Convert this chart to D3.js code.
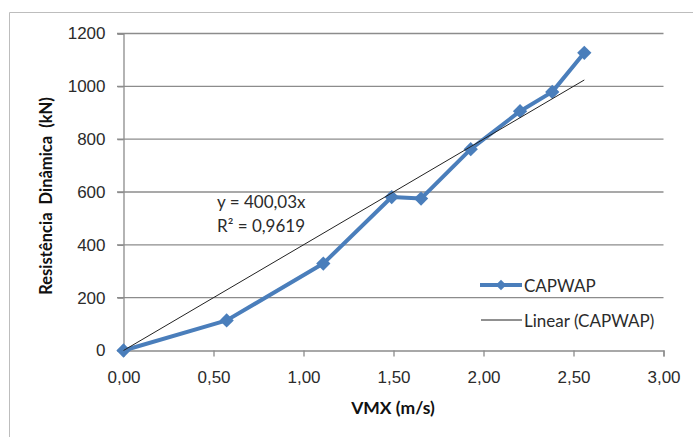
<!DOCTYPE html>
<html>
<head>
<meta charset="utf-8">
<script src="https://cdn.jsdelivr.net/npm/d3@7"></script>
<style>
  body { margin: 0; background: #fff; }
  svg { display: block; font-family: Lato, "Open Sans", sans-serif; }
</style>
</head>
<body>
<svg id="chart" width="693" height="437"></svg>
<script>
// DATA
const vmx = [0, 0.573, 1.11, 1.49, 1.653, 1.929, 2.203, 2.382, 2.56];
const resistencia = [0, 114, 329, 581, 575, 762, 906, 979, 1127];
const slope = 400.03;
const xTicks = [0, 0.5, 1, 1.5, 2, 2.5, 3];
const yTicks = [0, 200, 400, 600, 800, 1000, 1200];
const seriesName = "CAPWAP";
const trendName = "Linear (CAPWAP)";
const eqLines = ["y = 400,03x", "R² = 0,9619"];

const BLUE = "#4a7ebb";
const GRID = "#8c8c8c";
const TEXT = "#2b2b2b";
const FS = 17;

const svg = d3.select("#chart");

// frame of the chart object (only top + left edges visible)
svg.append("line").attr("x1", 9.5).attr("x2", 693).attr("y1", 12.5).attr("y2", 12.5)
    .attr("stroke", "#bdbdbd");
svg.append("line").attr("x1", 9.5).attr("x2", 9.5).attr("y1", 12.5).attr("y2", 437)
    .attr("stroke", "#bdbdbd");

const x = d3.scaleLinear().domain([0, 3]).range([123.5, 663.5]);
const y = d3.scaleLinear().domain([0, 1200]).range([350.5, 33.5]);

// horizontal gridlines
svg.append("g")
    .selectAll("line")
    .data(yTicks.filter(d => d > 0))
    .enter().append("line")
    .attr("x1", 117).attr("x2", x(3))
    .attr("y1", d => y(d)).attr("y2", d => y(d))
    .attr("stroke", GRID).attr("stroke-width", 1.3);

// y axis
const yAxis = svg.append("g")
    .attr("transform", `translate(${x(0)},0)`)
    .call(d3.axisLeft(y).tickValues(yTicks).tickSize(6).tickPadding(12).tickFormat(d3.format("d")));
yAxis.select(".domain").attr("stroke", GRID).attr("stroke-width", 1.3);
yAxis.selectAll(".tick line").attr("stroke", GRID).attr("stroke-width", 1.3);
yAxis.selectAll("text").attr("fill", TEXT).attr("font-size", FS).attr("font-family", null);

// x axis
const fmtComma = d => d3.format(".2f")(d).replace(".", ",");
const xAxis = svg.append("g")
    .attr("transform", `translate(0,${y(0)})`)
    .call(d3.axisBottom(x).tickValues(xTicks).tickSize(6).tickPadding(14).tickFormat(fmtComma));
xAxis.select(".domain").attr("stroke", GRID).attr("stroke-width", 1.3);
xAxis.selectAll(".tick line").attr("stroke", GRID).attr("stroke-width", 1.3);
xAxis.selectAll("text").attr("fill", TEXT).attr("font-size", FS).attr("font-family", null);

// axis titles
svg.append("text")
    .attr("transform", `translate(52,196) rotate(-90)`)
    .attr("text-anchor", "middle")
    .style("white-space", "pre")
    .attr("font-weight", "bold").attr("font-size", 16.5).attr("fill", "#111")
    .text("Resistência  Dinâmica  (kN)");
svg.append("text")
    .attr("x", 393).attr("y", 414)
    .attr("text-anchor", "middle")
    .attr("font-weight", "bold").attr("font-size", 17.5).attr("fill", "#111")
    .text("VMX (m/s)");

// data series
const pts = vmx.map((v, i) => [v, resistencia[i]]);
const line = d3.line().x(d => x(d[0])).y(d => y(d[1]));
svg.append("path")
    .datum(pts)
    .attr("d", line)
    .attr("fill", "none")
    .attr("stroke", BLUE).attr("stroke-width", 4)
    .attr("stroke-linejoin", "round");

const diamond = d3.symbol().type(d3.symbolDiamond2).size(130);
svg.append("g")
    .selectAll("path")
    .data(pts)
    .enter().append("path")
    .attr("transform", d => `translate(${x(d[0])},${y(d[1])})`)
    .attr("d", diamond)
    .attr("fill", BLUE);

// linear trendline through origin
const xMax = d3.max(vmx);
svg.append("path")
    .datum([[0, 0], [xMax, slope * xMax]])
    .attr("d", line)
    .attr("fill", "none")
    .attr("stroke", "#222").attr("stroke-width", 1);

// trendline equation
svg.append("g")
    .selectAll("text")
    .data(eqLines)
    .enter().append("text")
    .attr("x", 217).attr("y", (d, i) => 208 + i * 24)
    .attr("font-size", FS).attr("fill", TEXT)
    .text(d => d);

// legend
const legend = svg.append("g");
legend.append("line").attr("x1", 480).attr("x2", 522).attr("y1", 285).attr("y2", 285)
    .attr("stroke", BLUE).attr("stroke-width", 4);
legend.append("path").attr("transform", "translate(501,285)")
    .attr("d", d3.symbol().type(d3.symbolDiamond2).size(70)).attr("fill", BLUE);
legend.append("text").attr("x", 524).attr("y", 292).attr("font-size", FS).attr("fill", TEXT)
    .text(seriesName);
legend.append("line").attr("x1", 481).attr("x2", 522).attr("y1", 320).attr("y2", 320)
    .attr("stroke", "#222").attr("stroke-width", 1);
legend.append("text").attr("x", 524).attr("y", 327).attr("font-size", FS).attr("fill", TEXT)
    .text(trendName);
</script>
</body>
</html>
